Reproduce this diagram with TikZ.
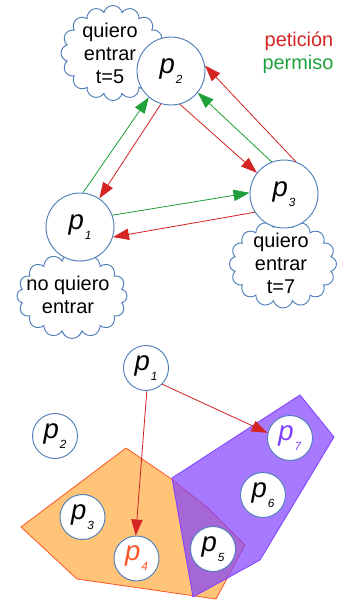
\documentclass[tikz,border=0pt]{standalone}
\usepackage{fontspec}
\setmainfont{Liberation Sans}
\usepackage{tikz}
\usetikzlibrary{arrows.meta,positioning,shapes.symbols}
\definecolor{borde}{RGB}{79,125,185}
\definecolor{rojo}{RGB}{212,36,36}
\definecolor{verde}{RGB}{32,160,58}
\definecolor{naranja}{RGB}{255,196,120}
\definecolor{naranjaborde}{RGB}{255,88,40}
\definecolor{morado}{RGB}{128,64,255}
\newcommand{\pn}[1]{\textit{p}\kern0.03em\raisebox{-0.36em}{\scalebox{0.43}{\textit{#1}}}}
\tikzset{
  proc/.style={circle, draw=borde, fill=white, line width=0.8pt, inner sep=0pt, minimum size=2.04cm, font=\fontsize{23.5}{23.5}\selectfont},
  procsm/.style={proc, minimum size=1.35cm},
  nube/.style={cloud, cloud puffs=16, draw=borde, line width=0.8pt, inner sep=0pt},
  nubetxt/.style={align=center, font=\fontsize{17}{19.6}\selectfont},
  pet/.style={-{Triangle[length=4.8mm,width=3.4mm]}, rojo, line width=0.7pt},
  perm/.style={-{Triangle[length=4.8mm,width=3.4mm]}, verde, line width=0.7pt}
}
\begin{document}
\begin{tikzpicture}
    \path[use as bounding box] (0,0) rectangle (10.2,-18.09);

    % arriba: peticiones y permisos
    \node[nube, minimum width=3.12cm, minimum height=2.85cm] (n2) at (3.39,-1.59) {};
    \node[nube, minimum width=3.30cm, minimum height=2.55cm] (n1) at (2.16,-8.88) {};
    \node[nube, minimum width=3.21cm, minimum height=2.64cm] (n3) at (8.49,-7.92) {};
    \node[nubetxt] (t2) at (3.30,-1.59) {quiero\\entrar\\t=5};
    \node[nubetxt] (t1) at (2.04,-8.85) {no quiero\\entrar};
    \node[nubetxt] (t3) at (8.43,-7.89) {quiero\\entrar\\t=7};

    \node[proc] (p2) at (5.13,-2.13) {\pn{2}};
    \node[proc] (p1) at (2.40,-6.81) {\pn{1}};
    \node[proc] (p3) at (8.52,-5.82) {\pn{3}};

    \draw[perm] (p1.85) -- (p2.230);
    \draw[pet] (p2.253) -- (p1.56);
    \draw[pet] (p2.-75) -- (p3.142);
    \draw[perm] (p3.111) -- (p2.-39);
    \draw[pet] (p3.70) -- (p2.9);
    \draw[perm] (p1.20) -- (p3.178);
    \draw[pet] (p3.212) -- (p1.-17);

    \node[nubetxt, text=rojo] (leg1) at (8.97,-1.23) {petición};
    \node[nubetxt, text=verde] (leg2) at (8.94,-1.92) {permiso};

    % abajo: zonas
    \draw[naranjaborde, fill=naranja, line width=0.7pt]
      (0.63,-15.81) -- (3.78,-13.44) -- (5.10,-14.34) -- (6.24,-15.24)
      -- (7.35,-16.35) -- (6.48,-17.97) -- (2.31,-17.37) -- cycle;
    \draw[morado, fill=morado, fill opacity=0.7, line width=0.7pt]
      (5.16,-14.34) -- (9.00,-11.85) -- (10.02,-13.11) -- (7.80,-16.80)
      -- (5.79,-17.91) -- cycle;

    \node[procsm] (q1) at (4.38,-11.04) {\pn{1}};
    \node[procsm] (q2) at (1.65,-13.08) {\pn{2}};
    \node[procsm] (q3) at (2.475,-15.51) {\pn{3}};
    \node[procsm, text=naranjaborde] (q4) at (4.095,-16.755) {\pn{4}};
    \node[procsm] (q5) at (6.39,-16.47) {\pn{5}};
    \node[procsm] (q6) at (7.89,-14.85) {\pn{6}};
    \node[procsm, text=morado] (q7) at (8.70,-13.14) {\pn{7}};

    \draw[pet] (q1.-88) -- (q4.92);
    \draw[pet] (q1.-45) -- (q7.167);
\end{tikzpicture}
\end{document}
